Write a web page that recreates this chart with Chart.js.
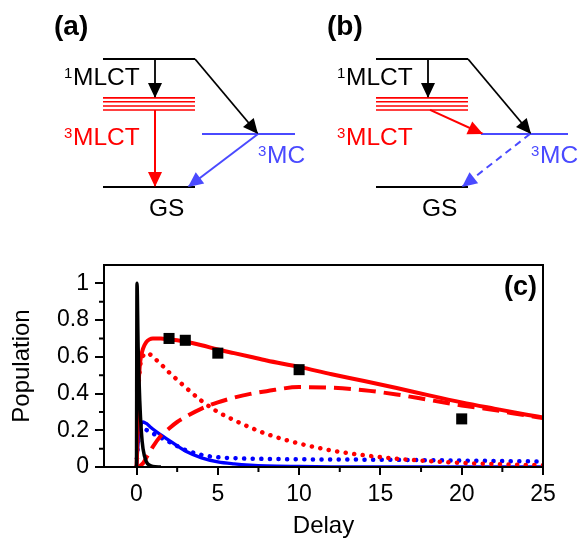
<!DOCTYPE html>
<html>
<head>
<meta charset="utf-8">
<script src="https://cdn.jsdelivr.net/npm/chart.js@4.4.1/dist/chart.umd.min.js"></script>
<style>
  body { margin: 0; background: #fff; }
  #wrap { position: relative; width: 584px; height: 538px; }
  #diagram { position: absolute; left: 0; top: 0; }
  #plot { position: absolute; left: 0; top: 235px; }
</style>
</head>
<body>
<div id="wrap">
  <canvas id="diagram" width="584" height="235"></canvas>
  <canvas id="plot" width="584" height="303"></canvas>
</div>
<script>
// ---- podatki za graf (c) ----
const delay = [0, 0.03, 0.1, 0.2, 0.3, 0.4, 0.6, 0.8, 1, 1.5, 2, 2.5, 3, 4, 5, 6, 7, 8, 10, 12, 14, 16, 18, 20, 22, 24, 25];
const mlct3Total = [0, 0.06, 0.38, 0.55, 0.61, 0.645, 0.68, 0.695, 0.70, 0.70, 0.695, 0.69, 0.683, 0.663, 0.64, 0.62, 0.60, 0.58, 0.545, 0.505, 0.468, 0.43, 0.39, 0.352, 0.318, 0.285, 0.27];
const mlct3Hot = [0, 0.06, 0.37, 0.53, 0.585, 0.605, 0.62, 0.615, 0.60, 0.56, 0.515, 0.475, 0.435, 0.36, 0.30, 0.255, 0.215, 0.18, 0.128, 0.09, 0.064, 0.045, 0.032, 0.022, 0.016, 0.011, 0.01];
const mlct3Relaxed = [0, 0, 0, 0.005, 0.012, 0.02, 0.05, 0.08, 0.11, 0.17, 0.21, 0.245, 0.272, 0.318, 0.352, 0.378, 0.398, 0.413, 0.435, 0.432, 0.418, 0.395, 0.365, 0.335, 0.31, 0.28, 0.267];
const mc3Pop = [0, 0.04, 0.13, 0.2, 0.235, 0.245, 0.237, 0.222, 0.207, 0.175, 0.145, 0.115, 0.087, 0.05, 0.028, 0.017, 0.01, 0.006, 0.003, 0.001, 0, 0, 0, 0, 0, 0, 0];
const mc3Alt = [0, 0.05, 0.14, 0.185, 0.2, 0.205, 0.202, 0.193, 0.183, 0.16, 0.137, 0.114, 0.093, 0.066, 0.053, 0.048, 0.045, 0.044, 0.042, 0.041, 0.04, 0.039, 0.037, 0.035, 0.033, 0.031, 0.03];

const singletDelay = [0, 0.03, 0.1, 0.2, 0.3, 0.4, 0.6, 0.8, 1, 1.5];
const singletPop = [0, 1.0, 0.65, 0.36, 0.19, 0.1, 0.03, 0.01, 0.003, 0];

const measDelay = [2, 3, 5, 10, 20];
const measPop = [0.70, 0.69, 0.62, 0.53, 0.262];

const xTicks = [0, 5, 10, 15, 20, 25];
const xMinorTicks = [2.5, 7.5, 12.5, 17.5, 22.5];
const yTicks = [0, 0.2, 0.4, 0.6, 0.8, 1];
const yMinorTicks = [0.1, 0.3, 0.5, 0.7, 0.9];

// ---- podatki za shemi (a) in (b) ----
const panelTags = ['(a)', '(b)'];
const stateSpin = ['1', '3', '3', ''];
const stateName = ['MLCT', 'MLCT', 'MC', 'GS'];
const stateEnergy = [1.0, 0.602, 0.414, 0];
const tripletSublevels = [0.696, 0.666, 0.633, 0.602];

const FONT = '"Liberation Sans", Arial, sans-serif';
Chart.defaults.font.family = FONT;
Chart.defaults.color = '#000';

const RED = '#ff0000';
const BLUE = '#0000ff';
const DBLUE = '#4a4aff';

function pts(xs, ys) {
    return xs.map((x, i) => ({ x: x, y: ys[i] }));
}

// ---- shema ----
const panelX = [103, 376];
const diagramSets = [];
const diagramTexts = [];

panelX.forEach((x0, p) => {
    const E1 = stateEnergy[0], EMC = stateEnergy[2], EGS = stateEnergy[3];
    // nivoji
    diagramSets.push({ data: [{x: x0, y: E1}, {x: x0 + 92, y: E1}], borderColor: '#000', borderWidth: 2 });
    tripletSublevels.forEach(e => {
        diagramSets.push({ data: [{x: x0, y: e}, {x: x0 + 92, y: e}], borderColor: RED, borderWidth: 1.6 });
    });
    diagramSets.push({ data: [{x: x0 + (p === 0 ? 99 : 105), y: EMC}, {x: x0 + 192, y: EMC}], borderColor: DBLUE, borderWidth: 2 });
    diagramSets.push({ data: [{x: x0, y: EGS}, {x: x0 + 92, y: EGS}], borderColor: '#000', borderWidth: 2 });
    // puscice
    diagramSets.push({ data: [{x: x0 + 92, y: E1}, {x: x0 + 155, y: EMC}], borderColor: '#000', borderWidth: 1.8, arrow: true });
    diagramSets.push({ data: [{x: x0 + 52, y: E1}, {x: x0 + 52, y: tripletSublevels[0]}], borderColor: '#000', borderWidth: 1.8, arrow: true });
    if (p === 0) {
        diagramSets.push({ data: [{x: x0 + 52, y: stateEnergy[1]}, {x: x0 + 52, y: EGS}], borderColor: RED, borderWidth: 2, arrow: true });
        diagramSets.push({ data: [{x: x0 + 155, y: EMC}, {x: x0 + 85, y: EGS}], borderColor: DBLUE, borderWidth: 2, arrow: true });
    } else {
        diagramSets.push({ data: [{x: x0 + 54, y: stateEnergy[1]}, {x: x0 + 107, y: EMC}], borderColor: RED, borderWidth: 2, arrow: true });
        diagramSets.push({ data: [{x: x0 + 154, y: EMC}, {x: x0 + 86, y: EGS}], borderColor: DBLUE, borderWidth: 2, borderDash: [7, 5], arrow: true });
    }
    // napisi
    diagramTexts.push({ sup: '', text: panelTags[p], x: x0 - 49, y: 1.25, color: '#000', bold: true });
    diagramTexts.push({ sup: stateSpin[0], text: stateName[0], x: x0 - 39, y: 0.797, color: '#000' });
    diagramTexts.push({ sup: stateSpin[1], text: stateName[1], x: x0 - 39, y: 0.328, color: RED });
    diagramTexts.push({ sup: stateSpin[2], text: stateName[2], x: x0 + 155, y: 0.1875, color: DBLUE });
    diagramTexts.push({ sup: stateSpin[3], text: stateName[3], x: x0 + 46, y: -0.227, color: '#000' });
});

const arrowHeads = {
    id: 'arrowHeads',
    afterDatasetsDraw(chart) {
        const ctx = chart.ctx;
        chart.data.datasets.forEach((ds, i) => {
            if (!ds.arrow) return;
            const el = chart.getDatasetMeta(i).data;
            const a = el[el.length - 2], b = el[el.length - 1];
            const ang = Math.atan2(b.y - a.y, b.x - a.x);
            const len = 15, half = 7;
            const c = Math.cos(ang), s = Math.sin(ang);
            ctx.save();
            ctx.fillStyle = ds.borderColor;
            ctx.beginPath();
            ctx.moveTo(b.x, b.y);
            ctx.lineTo(b.x - len * c + half * s, b.y - len * s - half * c);
            ctx.lineTo(b.x - len * c - half * s, b.y - len * s + half * c);
            ctx.closePath();
            ctx.fill();
            ctx.restore();
        });
    }
};

const diagramLabels = {
    id: 'diagramLabels',
    afterDraw(chart) {
        const ctx = chart.ctx;
        const sx = chart.scales.x, sy = chart.scales.y;
        ctx.save();
        diagramTexts.forEach(t => {
            let x = sx.getPixelForValue(t.x);
            const y = sy.getPixelForValue(t.y);
            ctx.fillStyle = t.color;
            ctx.textAlign = 'left';
            if (t.bold) {
                ctx.font = 'bold 28px ' + FONT;
                ctx.textBaseline = 'middle';
                ctx.fillText(t.text, x, y);
                return;
            }
            ctx.textBaseline = 'alphabetic';
            if (t.sup) {
                ctx.font = '15px ' + FONT;
                ctx.fillText(t.sup, x, y - 7);
                x += 9;
            }
            ctx.font = '24.5px ' + FONT;
            ctx.fillText(t.text, x, y);
        });
        ctx.restore();
    }
};

new Chart(document.getElementById('diagram'), {
    type: 'scatter',
    data: {
        datasets: diagramSets.map(d => Object.assign({ showLine: true, pointRadius: 0, fill: false }, d))
    },
    options: {
        responsive: false,
        animation: false,
        layout: { padding: 0 },
        plugins: { legend: { display: false }, tooltip: { enabled: false } },
        scales: {
            x: { type: 'linear', min: 0, max: 584, display: false },
            y: { type: 'linear', min: -0.375, max: 1.461, display: false }
        }
    },
    plugins: [arrowHeads, diagramLabels]
});

// ---- graf (c) ----
const frameAndMinor = {
    id: 'frameAndMinor',
    afterDatasetsDraw(chart) {
        const ctx = chart.ctx;
        const a = chart.chartArea;
        const sx = chart.scales.x, sy = chart.scales.y;
        ctx.save();
        ctx.strokeStyle = '#000';
        ctx.lineWidth = 2;
        ctx.strokeRect(a.left, a.top, a.right - a.left, a.bottom - a.top);
        ctx.beginPath();
        yMinorTicks.forEach(v => {
            const py = sy.getPixelForValue(v);
            ctx.moveTo(a.left - 5, py);
            ctx.lineTo(a.left, py);
        });
        xMinorTicks.forEach(v => {
            const px = sx.getPixelForValue(v);
            ctx.moveTo(px, a.bottom);
            ctx.lineTo(px, a.bottom + 5);
        });
        ctx.stroke();
        ctx.font = 'bold 27px ' + FONT;
        ctx.fillStyle = '#000';
        ctx.textAlign = 'right';
        ctx.textBaseline = 'middle';
        ctx.fillText('(c)', a.right - 6, a.top + 23);
        ctx.restore();
    }
};

new Chart(document.getElementById('plot'), {
    type: 'line',
    data: {
        datasets: [
            {
                label: 'Meritve',
                data: pts(measDelay, measPop),
                showLine: false,
                pointStyle: 'rect',
                pointRadius: 7.8,
                backgroundColor: '#000',
                borderWidth: 0
            },
            {
                label: '1MLCT',
                data: pts(singletDelay, singletPop),
                borderColor: '#000',
                borderWidth: 3.5,
                pointRadius: 0,
                cubicInterpolationMode: 'monotone'
            },
            {
                label: '3MLCT skupaj',
                data: pts(delay, mlct3Total),
                borderColor: RED,
                borderWidth: 4,
                pointRadius: 0,
                cubicInterpolationMode: 'monotone'
            },
            {
                label: '3MLCT relaksiran',
                data: pts(delay, mlct3Relaxed),
                borderColor: RED,
                borderWidth: 4,
                borderDash: [17, 8],
                pointRadius: 0,
                cubicInterpolationMode: 'monotone'
            },
            {
                label: '3MLCT vroc',
                data: pts(delay, mlct3Hot),
                borderColor: RED,
                borderWidth: 4.5,
                borderDash: [0.1, 8.5],
                borderCapStyle: 'round',
                pointRadius: 0,
                cubicInterpolationMode: 'monotone'
            },
            {
                label: '3MC',
                data: pts(delay, mc3Pop),
                borderColor: BLUE,
                borderWidth: 3.3,
                pointRadius: 0,
                cubicInterpolationMode: 'monotone'
            },
            {
                label: '3MC (b)',
                data: pts(delay, mc3Alt),
                borderColor: BLUE,
                borderWidth: 4.5,
                borderDash: [0.1, 8.5],
                borderCapStyle: 'round',
                pointRadius: 0,
                cubicInterpolationMode: 'monotone'
            }
        ]
    },
    options: {
        responsive: false,
        animation: false,
        layout: { padding: { top: 30, right: 41, left: 0, bottom: 0 } },
        plugins: { legend: { display: false }, tooltip: { enabled: false } },
        scales: {
            x: {
                type: 'linear',
                min: -2,
                max: 25,
                afterBuildTicks: s => { s.ticks = xTicks.map(v => ({ value: v })); },
                afterFit: s => { s.height = 71; },
                grid: { drawOnChartArea: false, color: '#000', lineWidth: 2, tickLength: 8 },
                border: { display: false },
                ticks: { color: '#000', font: { size: 23 }, padding: 6, maxRotation: 0, autoSkip: false, callback: v => String(v) },
                title: { display: true, text: 'Delay', color: '#000', font: { size: 24, lineHeight: 1 }, padding: 0 }
            },
            y: {
                type: 'linear',
                min: 0,
                max: 1.1,
                afterBuildTicks: s => { s.ticks = yTicks.map(v => ({ value: v })); },
                afterFit: s => { s.width = 104; },
                grid: { drawOnChartArea: false, color: '#000', lineWidth: 2, tickLength: 9 },
                border: { display: false },
                ticks: { color: '#000', font: { size: 23 }, padding: 6, autoSkip: false, callback: v => String(v) },
                title: { display: true, text: 'Population', color: '#000', font: { size: 24, lineHeight: 1 }, padding: { top: 10, bottom: 0 } }
            }
        }
    },
    plugins: [frameAndMinor]
});
</script>
</body>
</html>
